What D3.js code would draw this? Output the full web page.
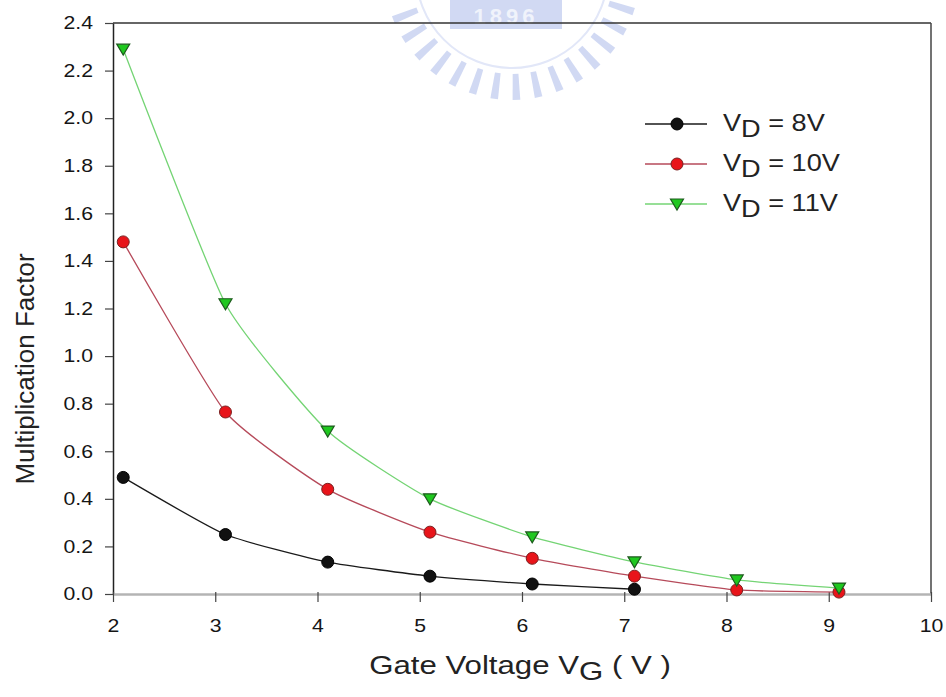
<!DOCTYPE html>
<html>
<head>
<meta charset="utf-8">
<script src="https://cdn.jsdelivr.net/npm/d3@7"></script>
<style>
  body { margin: 0; background: #fff; }
  text { font-family: "Liberation Sans", Arial, sans-serif; fill: #222; }
</style>
</head>
<body>
<script>
// data
var gateVoltage = [2.1, 3.1, 4.1, 5.1, 6.1, 7.1, 8.1, 9.1];
var mfVd8  = [0.49, 0.25, 0.134, 0.075, 0.042, 0.02];
var mfVd10 = [1.48, 0.765, 0.44, 0.26, 0.15, 0.075, 0.017, 0.008];
var mfVd11 = [2.29, 1.22, 0.685, 0.40, 0.24, 0.135, 0.059, 0.025];
var seriesNames = ["8V", "10V", "11V"];
var xTicks = [2, 3, 4, 5, 6, 7, 8, 9, 10];
var yTicks = [0, 0.2, 0.4, 0.6, 0.8, 1.0, 1.2, 1.4, 1.6, 1.8, 2.0, 2.2, 2.4];

var width = 946, height = 697;
var plotLeft = 113, plotRight = 931, plotTop = 23, plotBottom = 594;
var sx = 1.18; // the picture's text is a bit wide

var svg = d3.select("body").append("svg")
    .attr("width", width)
    .attr("height", height);

// faint logo at the top (watermark)
var logo = svg.append("g").attr("transform", "translate(512,-28)")
    .style("opacity", 0.85);
d3.range(0, 15).forEach(function(i) {
    var a = (18 + i * 10) * Math.PI / 180;
    var r0 = 102, r1 = 128;
    logo.append("path")
        .attr("d", "M" + [Math.cos(a - 0.028) * r0, Math.sin(a - 0.028) * r0] +
              "L" + [Math.cos(a - 0.03) * r1, Math.sin(a - 0.03) * r1] +
              "L" + [Math.cos(a + 0.03) * r1, Math.sin(a + 0.03) * r1] +
              "L" + [Math.cos(a + 0.028) * r0, Math.sin(a + 0.028) * r0] + "Z")
        .attr("fill", "#c9d3f2");
});
logo.append("circle").attr("r", 96).attr("fill", "none")
    .attr("stroke", "#dde3f7").attr("stroke-width", 2);
logo.append("rect").attr("x", -62).attr("y", 28).attr("width", 112).attr("height", 29)
    .attr("fill", "#c9d3f2");
logo.append("text").attr("x", -6).attr("y", 52).attr("text-anchor", "middle")
    .style("font-size", "22px").style("font-weight", "bold").style("fill", "#eef1fb")
    .attr("letter-spacing", 4).text("1896");

var x = d3.scaleLinear().domain([2, 10]).range([plotLeft, plotRight]);
var y = d3.scaleLinear().domain([0, 2.4]).range([plotBottom, plotTop]);

// frame
svg.append("line").attr("x1", plotLeft).attr("x2", plotRight).attr("y1", plotTop).attr("y2", plotTop)
    .attr("stroke", "#333").attr("stroke-width", 1.5);
svg.append("line").attr("x1", plotRight).attr("x2", plotRight).attr("y1", plotTop).attr("y2", plotBottom)
    .attr("stroke", "#444").attr("stroke-width", 1.5);

// axes
var yAxis = svg.append("g").attr("transform", "translate(" + plotLeft + ",0)")
    .call(d3.axisLeft(y).tickValues(yTicks).tickFormat(d3.format(".1f"))
        .tickSize(8).tickPadding(0).tickSizeOuter(0));
yAxis.select(".domain").attr("stroke", "#222").attr("stroke-width", 1.5);
yAxis.selectAll(".tick line").attr("stroke", "#444").attr("stroke-width", 1.2);
yAxis.selectAll(".tick text")
    .attr("x", 0)
    .attr("transform", "translate(-20,0) scale(" + sx + ",1)")
    .style("font-size", "18px").style("fill", "#151515");

var xAxis = svg.append("g").attr("transform", "translate(0," + plotBottom + ")")
    .call(d3.axisBottom(x).tickValues(xTicks).tickFormat(d3.format("d"))
        .tickSize(8).tickPadding(17).tickSizeOuter(0));
xAxis.select(".domain").attr("stroke", "#b4b4b4").attr("stroke-width", 2.5);
xAxis.selectAll(".tick line").attr("stroke", "#444").attr("stroke-width", 1.2)
    .attr("y1", -2);
xAxis.selectAll(".tick text")
    .attr("transform", "scale(" + sx + ",1)")
    .style("font-size", "18px").style("fill", "#151515");

// lines
var series = [
    { name: seriesNames[0], values: mfVd8, line: "#1a1a1a", fill: "#111", stroke: "#000", shape: "circle" },
    { name: seriesNames[1], values: mfVd10, line: "#b64a5a", fill: "#e8141a", stroke: "#7a2020", shape: "circle" },
    { name: seriesNames[2], values: mfVd11, line: "#74d474", fill: "#1fc81f", stroke: "#1d5a1d", shape: "tri" }
];

var line = d3.line()
    .x(function(d) { return x(d[0]); })
    .y(function(d) { return y(d[1]); })
    .curve(d3.curveCardinal.tension(0.5));

function drawMarker(g, s) {
    if (s.shape === "circle") {
        g.append("circle").attr("r", 6).attr("fill", s.fill)
            .attr("stroke", s.stroke).attr("stroke-width", 1);
    } else {
        g.append("path").attr("d", "M-6.5,-5L6.5,-5L0,6Z").attr("fill", s.fill)
            .attr("stroke", s.stroke).attr("stroke-width", 1.2);
    }
}

series.forEach(function(s) {
    var pts = s.values.map(function(v, i) { return [gateVoltage[i], v]; });
    svg.append("path").datum(pts)
        .attr("d", line)
        .attr("fill", "none")
        .attr("stroke", s.line)
        .attr("stroke-width", 1.3);
    pts.forEach(function(p) {
        var g = svg.append("g").attr("transform", "translate(" + x(p[0]) + "," + y(p[1]) + ")");
        drawMarker(g, s);
    });
});

// legend
var legendY = [124, 164, 204];
series.forEach(function(s, i) {
    var g = svg.append("g").attr("transform", "translate(0," + legendY[i] + ")");
    g.append("line").attr("x1", 645).attr("x2", 707).attr("y1", 0).attr("y2", 0)
        .attr("stroke", s.line).attr("stroke-width", 1.3);
    var m = g.append("g").attr("transform", "translate(677,0)");
    drawMarker(m, s);
    var t = g.append("text").attr("transform", "translate(723,7) scale(" + sx + ",1)")
        .style("font-size", "23px");
    t.append("tspan").text("V");
    t.append("tspan").attr("dy", 6).text("D");
    t.append("tspan").attr("dy", -6).text(" = " + s.name);
});

// axis titles
var xt = svg.append("text")
    .attr("transform", "translate(520,674) scale(1.2,1)")
    .attr("text-anchor", "middle")
    .style("font-size", "26px");
xt.append("tspan").text("Gate Voltage V");
xt.append("tspan").attr("dy", 6).text("G");
xt.append("tspan").attr("dy", -6).text(" ( V )");

svg.append("text")
    .attr("transform", "translate(34,369) rotate(-90)")
    .attr("text-anchor", "middle")
    .style("font-size", "26px")
    .text("Multiplication Factor");
</script>
</body>
</html>
